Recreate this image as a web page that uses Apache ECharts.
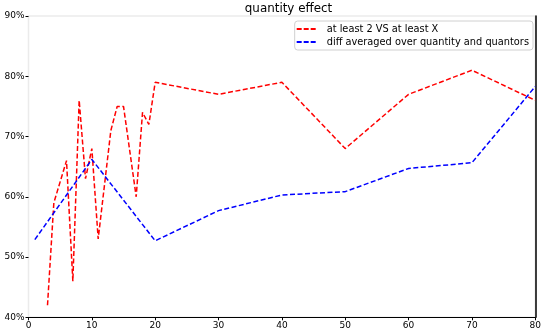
<!DOCTYPE html>
<html>
<head>
<meta charset="utf-8">
<script src="https://cdn.jsdelivr.net/npm/echarts@6/dist/echarts.min.js"></script>
<style>html,body{margin:0;padding:0;background:#fff}#c{width:544px;height:332px}</style>
</head>
<body>
<div id="c"></div>
<script>
var titleText = 'quantity effect';
var seriesNames = ['at least 2 VS at least X', 'diff averaged over quantity and quantors'];
var redX = [3, 4, 6, 7, 8, 9, 10, 11, 13, 14, 15, 17, 18, 19, 20, 30, 40, 50, 60, 70, 80];
var redY = [42, 59, 66, 46, 76, 63, 68, 53, 71, 75, 75, 60, 74, 72, 79, 77, 79, 68, 77, 81, 76];
var blueX = [1, 10, 20, 30, 40, 50, 60, 70, 80];
var blueY = [52.9, 66.2, 52.7, 57.7, 60.3, 60.85, 64.7, 65.65, 78.3];
var xTicks = [0, 10, 20, 30, 40, 50, 60, 70, 80];
var yTicks = [40, 50, 60, 70, 80, 90];

function pairs(xs, ys){ return xs.map(function(x,i){return [x, ys[i]];}); }

var chart = echarts.init(document.getElementById('c'), null, {renderer:'canvas'});
var font = 'DejaVu Sans';
var dashIcon = 'path://M0,0h5v2h-5z M7,0h5v2h-5z M14,0h5v2h-5z';
chart.setOption({
  animation: false,
  textStyle: {fontFamily: font},
  title: {text: titleText, left: 283.5, textAlign: 'center', top: -2,
    textStyle: {fontSize: 11.9, fontWeight: 'normal', color: '#000', fontFamily: font}},
  grid: {left: 28.5, right: 7, top: 16, bottom: 14.7, show: true, borderColor: '#ebebeb', borderWidth: 1.5, backgroundColor: '#fff'},
  legend: {
    right: 11, top: 21, orient: 'vertical', itemGap: 3, itemWidth: 19, itemHeight: 2,
    backgroundColor: '#fff', borderColor: '#d0d0d0', borderWidth: 1, borderRadius: 3,
    padding: [3, 4, 3, 2],
    textStyle: {fontSize: 9.8, color: '#000', fontFamily: font, padding: [0, 0, 0, 6]},
    data: [{name: seriesNames[0], icon: dashIcon, itemStyle: {color: '#ff0000'}},
           {name: seriesNames[1], icon: dashIcon, itemStyle: {color: '#0000ff'}}]
  },
  xAxis: {
    type: 'value', min: xTicks[0], max: xTicks[xTicks.length-1], interval: 10,
    axisLine: {show: true, lineStyle: {color: '#000', width: 1}},
    axisTick: {show: true, length: 3, lineStyle: {color: '#000'}},
    axisLabel: {fontSize: 9, color: '#000', margin: 4, fontFamily: font},
    splitLine: {show: false}
  },
  yAxis: [{
    type: 'value', min: yTicks[0], max: yTicks[yTicks.length-1], interval: 10,
    axisLine: {show: false},
    axisTick: {show: true, length: 3, lineStyle: {color: '#000'}},
    axisLabel: {fontSize: 9, color: '#000', margin: 4, formatter: '{value}%', fontFamily: font},
    splitLine: {show: false}
  }, {
    type: 'value', position: 'right', min: yTicks[0], max: yTicks[yTicks.length-1], interval: 10,
    axisLine: {show: true, lineStyle: {color: '#000', width: 1.5}},
    axisTick: {show: false}, axisLabel: {show: false}, splitLine: {show: false}
  }],
  series: [{
    name: seriesNames[0], type: 'line', data: pairs(redX, redY), symbol: 'none',
    lineStyle: {color: '#ff0000', width: 1.5, type: [5, 2.5]}, itemStyle: {color: '#ff0000'}
  }, {
    name: seriesNames[1], type: 'line', data: pairs(blueX, blueY), symbol: 'none',
    lineStyle: {color: '#0000ff', width: 1.5, type: [5, 2.5]}, itemStyle: {color: '#0000ff'}
  }]
});
</script>
</body>
</html>
